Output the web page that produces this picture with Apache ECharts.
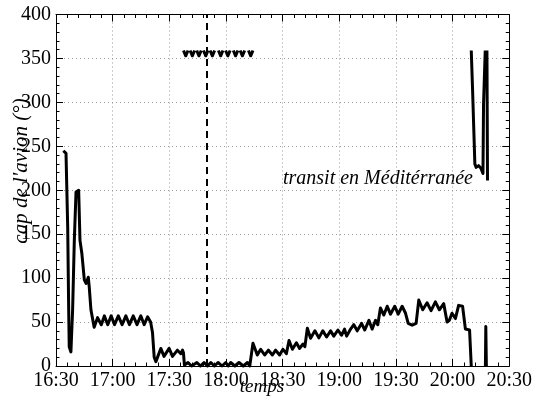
<!DOCTYPE html>
<html>
<head>
<meta charset="utf-8">
<script src="https://cdn.jsdelivr.net/npm/echarts@6/dist/echarts.min.js"></script>
<style>
  html, body { margin: 0; padding: 0; background: #fff; }
  #chart { width: 535px; height: 404px; }
</style>
</head>
<body>
<div id="chart"></div>
<script>
// Heading of the aircraft (degrees) against clock time, stored in minutes after midnight.
// null entries break the trace where the heading wraps between 0° and 360°.

const timeTicks = ['16:30', '17:00', '17:30', '18:00', '18:30', '19:00', '19:30', '20:00', '20:30'];
const headingTicks = [0, 50, 100, 150, 200, 250, 300, 350, 400];

// Lower trace (headings near 0°–250°)
const lowerMinutes = [
  993.9, 995.3, 996.2, 996.7, 997.0, 997.9, 998.8, 999.7, 1000.6, 1002.0,
  1002.7, 1003.7, 1005.0, 1005.9, 1007.1, 1007.6, 1008.5, 1010.2, 1012.0, 1014.0,
  1015.6, 1017.4, 1019.2, 1021.0, 1023.0, 1025.0, 1027.0, 1028.9, 1030.9, 1032.9,
  1034.9, 1036.7, 1038.5, 1040.1, 1041.1, 1042.0, 1042.9, 1045.5, 1047.2, 1049.9,
  1051.7, 1054.3, 1056.1, 1057.0, 1057.5, 1058.0, 1059.9, 1061.8, 1064.6, 1066.5,
  1068.4, 1070.2, 1072.0, 1073.9, 1075.8, 1077.9, 1079.9, 1081.2, 1082.5, 1084.7,
  1086.9, 1089.2, 1091.4, 1092.6, 1093.6, 1094.3, 1096.6, 1098.4, 1100.5, 1102.5,
  1104.6, 1106.3, 1108.4, 1110.2, 1112.0, 1113.4, 1115.2, 1117.3, 1119.0, 1120.8,
  1121.8, 1123.1, 1124.8, 1127.1, 1129.2, 1131.3, 1133.3, 1135.4, 1137.1, 1139.3,
  1141.2, 1142.8, 1143.9, 1146.0, 1147.7, 1149.5, 1151.8, 1153.5, 1155.7, 1157.4,
  1159.2, 1160.4, 1161.8, 1163.6, 1165.4, 1167.1, 1169.4, 1171.2, 1173.3, 1175.1,
  1176.5, 1178.6, 1180.7, 1182.1, 1184.2, 1186.5, 1188.6, 1190.9, 1193.0, 1195.3,
  1197.1, 1198.3, 1199.7, 1201.5, 1203.2, 1205.3, 1206.8, 1209.0, 1209.9, 1213.0,
  1217.4, 1217.6, 1217.9
];
const lowerHeading = [
  245, 242, 158, 67, 22, 16, 64, 143, 198, 200,
  143, 128, 98, 94, 101, 90, 64, 44, 55, 47,
  57, 47, 57, 47, 57, 47, 57, 47, 57, 47,
  57, 47, 56, 50, 38, 10, 5, 20, 11, 20,
  11, 18, 14, 18, 15, 1, 4, 0, 4, 0,
  4, 0, 4, 0, 4, 0, 4, 0, 4, 0,
  4, 0, 4, 0, 0, 26, 12.5, 19, 12.5, 18,
  12.5, 18, 12.5, 19, 14, 29, 19, 26.5, 20, 25,
  22, 43, 31.5, 40, 32, 40, 33, 40, 34, 41,
  35, 42, 34, 42, 47, 40, 48.5, 41, 52, 42,
  52, 47, 66, 58, 68, 59, 68, 59, 68, 60,
  48.5, 46.5, 48.5, 75, 64, 72, 63, 73, 64, 71,
  50, 52, 60, 54, 69, 68, 42, 41, 0, null,
  0, 45, 0
];

// Upper trace (headings near 360° and the final turn)
const upperMinutes = [
  1057.5, 1058.7, 1059.9, 1060.4,
  1061.0, 1062.2, 1063.4, 1064.0,
  1064.5, 1065.7, 1066.9, 1067.5,
  1068.1, 1069.3, 1070.5, 1071.1,
  1071.6, 1072.8, 1074.0, 1075.0,
  1076.0, 1077.2, 1078.4, 1079.0,
  1079.8, 1081.0, 1082.2, 1083.0,
  1083.9, 1085.1, 1086.3, 1087.0,
  1087.5, 1088.7, 1089.9, 1091.0,
  1091.9, 1093.1, 1094.3, 1095.0,
  1209.9, 1210.6, 1211.3, 1211.8, 1212.5, 1213.8, 1215.0, 1216.1, 1216.4, 1217.3,
  1217.5, 1218.2, 1218.5
];
const upperHeading = [
  359, 353, 359, null,
  359, 353, 359, null,
  359, 353, 359, null,
  359, 353, 359, null,
  359, 353, 359, null,
  359, 353, 359, null,
  359, 353, 359, null,
  359, 353, 359, null,
  359, 353, 359, null,
  359, 353, 359, null,
  359, 314, 265, 230, 226, 228, 225, 219, 298, 359,
  null, 359, 211
];

// Event marker (17:50)
const markerMinute = 1070;

const serif = 'Liberation Serif';
const toPairs = (xs, ys) => xs.map((x, i) => [x, ys[i] === null ? null : ys[i]]);

const baseX = {
  type: 'value', min: 990, max: 1230, interval: 30,
  axisLine: { show: true, onZero: false, lineStyle: { color: '#000', width: 1 } },
  axisTick: { show: true, inside: true, length: 7, lineStyle: { color: '#000' } },
  minorTick: { show: true, splitNumber: 5, length: 3.5, lineStyle: { color: '#000' } },
  splitLine: { show: false }
};
const baseY = {
  type: 'value', min: 0, max: 400, interval: 50,
  axisLine: { show: true, onZero: false, lineStyle: { color: '#000', width: 1 } },
  axisTick: { show: true, inside: true, length: 7, lineStyle: { color: '#000' } },
  minorTick: { show: true, splitNumber: 5, length: 3.5, lineStyle: { color: '#000' } },
  splitLine: { show: false }
};
const gridDots = { show: true, lineStyle: { color: '#9a9a9a', width: 1, type: [1, 3] } };

const option = {
  animation: false,
  backgroundColor: '#fff',
  textStyle: { fontFamily: serif },
  grid: { left: 56, right: 25, top: 14.5, bottom: 38, containLabel: false },
  xAxis: [
    Object.assign({}, baseX, {
      position: 'bottom',
      splitLine: gridDots,
      axisLabel: {
        show: true, margin: 5, color: '#000', fontSize: 20, fontFamily: serif,
        formatter: v => timeTicks[Math.round((v - 990) / 30)]
      }
    }),
    Object.assign({}, baseX, { position: 'top', axisLabel: { show: false } })
  ],
  yAxis: [
    Object.assign({}, baseY, {
      position: 'left',
      splitLine: gridDots,
      axisLabel: {
        show: true, margin: 5, color: '#000', fontSize: 20, fontFamily: serif,
        formatter: v => String(headingTicks[Math.round(v / 50)])
      }
    }),
    Object.assign({}, baseY, { position: 'right', axisLabel: { show: false } })
  ],
  series: [
    {
      type: 'line',
      data: toPairs(lowerMinutes, lowerHeading),
      showSymbol: false, symbol: 'none',
      connectNulls: false, clip: false,
      lineStyle: { color: '#000', width: 3, join: 'round' },
      markLine: {
        silent: true, symbol: 'none',
        label: { show: false },
        lineStyle: { color: '#000', width: 2, type: [7, 5] },
        data: [{ xAxis: markerMinute }]
      }
    },
    {
      type: 'line',
      data: toPairs(upperMinutes, upperHeading),
      showSymbol: false, symbol: 'none',
      connectNulls: false, clip: false,
      lineStyle: { color: '#000', width: 3, join: 'round' }
    }
  ],
  graphic: [
    {
      type: 'text', left: 283, top: 169,
      style: { text: 'transit en Méditérranée', font: 'italic 20px "Liberation Serif"', fill: '#000' }
    },
    {
      type: 'text', x: 21, y: 171, rotation: Math.PI / 2,
      style: { text: "cap de l'avion (°)", font: 'italic 21px "Liberation Serif"', fill: '#000',
               align: 'center', verticalAlign: 'middle' }
    },
    {
      type: 'text', x: 262, y: 387,
      style: { text: 'temps', font: 'italic 19px "Liberation Serif"', fill: '#000',
               align: 'center', verticalAlign: 'middle' }
    }
  ]
};

const chart = echarts.init(document.getElementById('chart'), null, { renderer: 'canvas' });
chart.setOption(option);
</script>
</body>
</html>
